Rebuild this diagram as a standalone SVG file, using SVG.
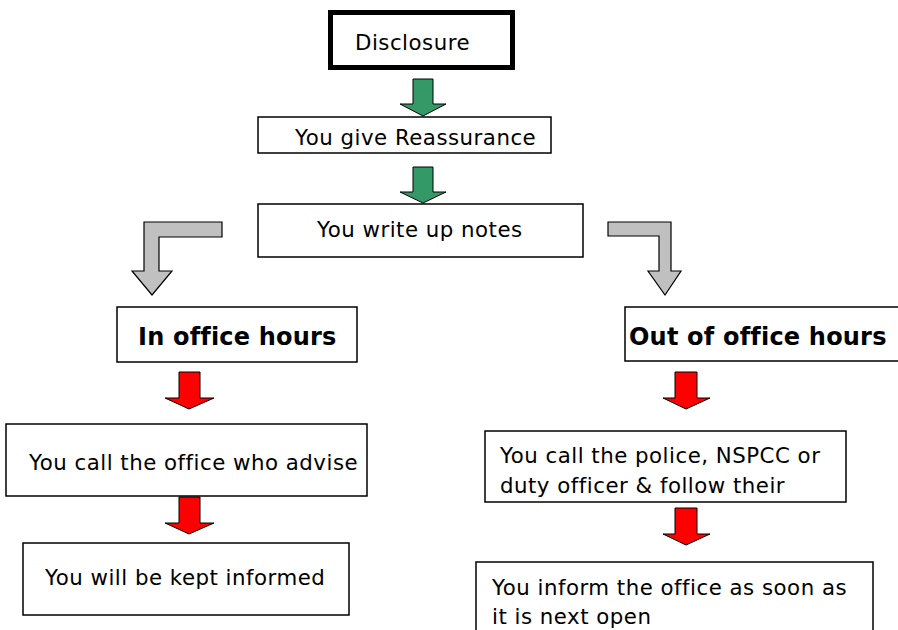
<svg xmlns="http://www.w3.org/2000/svg" width="898" height="630" viewBox="0 0 898 630">
<style>
.box{fill:#fff;stroke:#000;stroke-width:1.5}
.t{font-family:"DejaVu Sans",Verdana,sans-serif;font-size:21.3px;letter-spacing:0.5px;fill:#000}
.b{font-family:"DejaVu Sans",Verdana,sans-serif;font-size:24px;font-weight:bold;letter-spacing:0.2px;fill:#000}
.g{fill:#339966;stroke:#000;stroke-width:1}
.r{fill:#ff0000;stroke:#000;stroke-width:1}
.gr{fill:#c0c0c0;stroke:#000;stroke-width:1.2}
</style>
<rect width="898" height="630" fill="#fff"/>
<g id="connectors">
<path class="g" d="M413,79 L433,79 L433,104 L446,104 L423,116 L400,104 L413,104 Z"/>
<path class="g" d="M413,167 L433,167 L433,192 L446,192 L423,203 L400,192 L413,192 Z"/>
<path class="gr" d="M222,222 L144,222 L144,271 L132,271 L152,295 L172,271 L159,271 L159,237 L222,237 Z"/>
<path class="gr" d="M608,222 L671,222 L671,271 L681,271 L665,295 L648,271 L659,271 L659,236 L608,236 Z"/>
<path class="r" d="M179,372 L200,372 L200,398 L214,398 L189,409 L165,398 L179,398 Z"/>
<path class="r" d="M179,497 L200,497 L200,523 L214,523 L189,534 L165,523 L179,523 Z"/>
<path class="r" d="M675,372 L697,372 L697,398 L710,398 L686,409 L663,398 L675,398 Z"/>
<path class="r" d="M675,508 L697,508 L697,534 L710,534 L686,545 L663,534 L675,534 Z"/>
</g>
<g id="disclosure">
<rect x="330.5" y="12.5" width="182" height="55" fill="#fff" stroke="#000" stroke-width="5"/>
<text class="t" x="355" y="50">Disclosure</text>
</g>
<g id="reassurance">
<rect class="box" x="258" y="117" width="293" height="36"/>
<text class="t" x="295" y="145">You give Reassurance</text>
</g>
<g id="notes">
<rect class="box" x="258" y="204" width="325" height="53"/>
<text class="t" x="317" y="237">You write up notes</text>
</g>
<g id="in-office">
<rect class="box" x="117" y="307" width="240" height="55"/>
<text class="b" x="138" y="345">In office hours</text>
</g>
<g id="out-office">
<rect class="box" x="625" y="307" width="280" height="54"/>
<text class="b" x="629" y="345">Out of office hours</text>
</g>
<g id="call-office">
<rect class="box" x="6" y="424" width="361" height="72"/>
<text class="t" x="29" y="470">You call the office who advise</text>
</g>
<g id="kept-informed">
<rect class="box" x="23" y="543" width="326" height="72"/>
<text class="t" x="45" y="585">You will be kept informed</text>
</g>
<g id="call-police">
<rect class="box" x="485" y="431" width="361" height="71"/>
<text class="t" x="500" y="463">You call the police, NSPCC or</text>
<text class="t" x="500" y="493">duty officer &amp; follow their</text>
</g>
<g id="inform-office">
<rect class="box" x="476" y="562" width="397" height="80"/>
<text class="t" x="492" y="595">You inform the office as soon as</text>
<text class="t" x="492" y="624">it is next open</text>
</g>
</svg>
